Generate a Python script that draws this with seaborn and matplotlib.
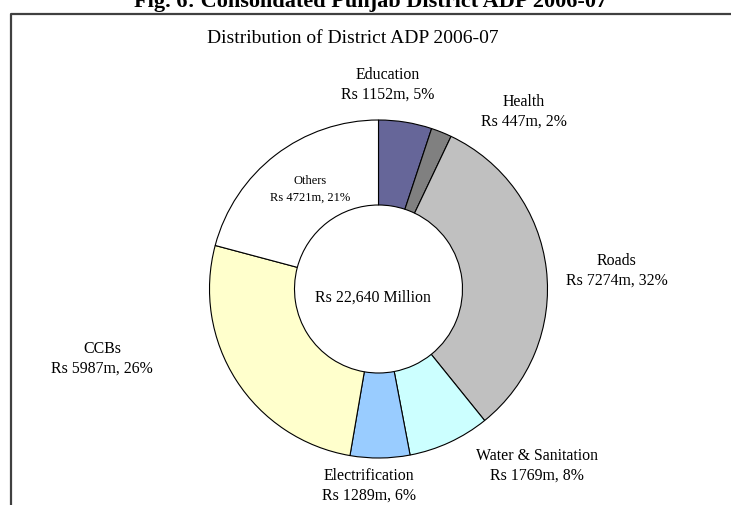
import matplotlib
matplotlib.use("Agg")
import matplotlib.pyplot as plt
import seaborn as sns
from matplotlib.lines import Line2D

sns.set_theme(style="white")
plt.rcParams['font.family'] = ['Liberation Serif', 'DejaVu Serif']

# ---- data ----
categories = ["Education", "Health", "Roads", "Water & Sanitation",
              "Electrification", "CCBs", "Others"]
values = [1152, 447, 7274, 1769, 1289, 5987, 4721]
colors = ["#666699", "#808080", "#C0C0C0", "#CCFFFF", "#99CCFF", "#FFFFCC", "#FFFFFF"]
total_label = "Rs 22,640 Million"
chart_title = "Distribution of District ADP 2006-07"
fig_title = "Fig. 6: Consolidated Punjab District ADP 2006-07"

# ---- layout (pixel positions, top-left origin) ----
W, H = 731, 506
label_pos = {
    "Education": (388, 85),
    "Health": (524, 112),
    "Roads": (617, 271),
    "Water & Sanitation": (537, 466),
    "Electrification": (369, 486),
    "CCBs": (102, 359),
    "Others": (310, 189),
}
label_size = {"Others": 9}
label_spacing = {"Others": 1.55}
center_px = (378.5, 290)
R_outer = 169
R_inner = 84

fig = plt.figure(figsize=(W / 100, H / 100), dpi=100)
ax = fig.add_axes([0, 0, 1, 1])

def py(y):
    return H - y

total = sum(values)
ax.pie(values, colors=colors, startangle=90, counterclock=False,
       radius=R_outer, center=(center_px[0], py(center_px[1])),
       wedgeprops=dict(width=R_outer - R_inner, edgecolor="black", linewidth=0.8))
ax.set_xlim(0, W)
ax.set_ylim(0, H)
ax.set_aspect("equal")
ax.axis("off")

for cat, val in zip(categories, values):
    pct = round(100 * val / total)
    x, y = label_pos[cat]
    ax.text(x, py(y), f"{cat}\nRs {val}m, {pct}%", ha="center", va="center",
            fontsize=label_size.get(cat, 11.4), color="black",
            linespacing=label_spacing.get(cat, 1.3))

ax.text(372.5, py(298), total_label, ha="center", va="center", fontsize=11.4, color="black")
ax.text(353, py(43), chart_title, ha="center", va="baseline", fontsize=14, color="black")
ax.text(371, py(7), fig_title, ha="center", va="baseline", fontsize=16,
        fontweight="bold", color="black")

# frame (left and top edges visible)
ax.add_line(Line2D([11, 11, W + 5], [-5, py(14.7), py(14.7)], color="#404040",
                   linewidth=1.6, clip_on=False))

fig.savefig("out.png", dpi=100)
